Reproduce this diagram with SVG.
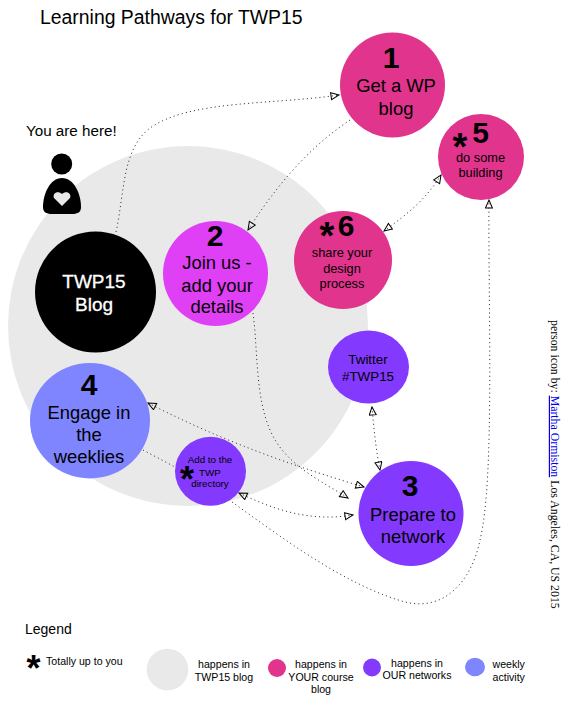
<svg xmlns="http://www.w3.org/2000/svg" width="576" height="705" viewBox="0 0 576 705">
<style>
text{font-family:"Liberation Sans",Arial,sans-serif;fill:#000;text-anchor:middle}
.l{text-anchor:start}
.num{font-weight:bold;font-size:30px}
.t18{font-size:18.4px}
.t13{font-size:12.8px}
.t134{font-size:13.4px}
.t11{font-size:10.6px}
.t10{font-size:9.8px}
.w{fill:#fff;font-size:19px;font-weight:500;stroke:#fff;stroke-width:.3}
.star{font-weight:bold;font-size:38px}
.star2{font-weight:bold;font-size:36px}
.pink{fill:#e0348d}.mag{fill:#e040f5}.pur{fill:#8439ff}.per{fill:#7e85ff}.gr{fill:#e9e9e9}
.c{fill:none;stroke:#333;stroke-width:1;stroke-dasharray:1.1 3.1}
.a{marker-end:url(#ah)}
.b{marker-start:url(#ahs);marker-end:url(#ah)}
</style>
<defs>
<marker id="ah" markerUnits="userSpaceOnUse" markerWidth="12" markerHeight="10" refX="9" refY="4" orient="auto"><path d="M1,.5 L9,4 L1,7.5 Z" fill="none" stroke="#000" stroke-width="1"/></marker>
<marker id="ahs" markerUnits="userSpaceOnUse" markerWidth="12" markerHeight="10" refX="9" refY="4" orient="auto-start-reverse"><path d="M1,.5 L9,4 L1,7.5 Z" fill="none" stroke="#000" stroke-width="1"/></marker>
</defs>
<rect width="576" height="705" fill="#fff"/>
<g id="background"><circle class="gr" cx="188" cy="326" r="180"/></g>
<text class="l" x="40" y="24" font-size="19.4">Learning Pathways for TWP15</text>
<text class="l" x="26" y="136" font-size="15.2">You are here!</text>
<g id="connectors">
<path class="c a" d="M116,232 C125,190 122,150 150,128 C190,100 270,105 339,95"/>
<path class="c a" d="M350,120 C320,140 285,172 248,230"/>
<path class="c b" d="M441,175 C425,200 410,212 384,231"/>
<path class="c a" d="M253,313 C258,350 255,395 270,430 C285,465 320,480 348,498"/>
<path class="c b" d="M148,403 C220,440 290,465 364,487"/>
<path class="c" d="M143,450 L175,467"/>
<path class="c b" d="M239,493 C275,510 310,522 353,515"/>
<path class="c a" d="M232,502 C285,540 345,585 405,602 C445,612 472,580 480,540 C495,480 488,300 489,200"/>
<path class="c b" d="M372,407 C374,430 376,450 380,470"/>
</g>
<g id="person">
<circle cx="61.7" cy="164" r="10.5" fill="#000"/>
<path d="M62,178 C74,178 81,194 81,207 C81,212 78,214 72,214 L52,214 C46,214 43,212 43,207 C43,194 50,178 62,178 Z" fill="#000"/>
<path d="M62,206 L54,198 C52,193 58,190 62,194 C66,190 72,193 70,198 Z" fill="#e9e9e9"/>
</g>
<g id="node-blog"><circle cx="95.5" cy="292" r="60.5" fill="#000"/><text class="w" x="94" y="288">TWP15</text><text class="w" x="94" y="311">Blog</text></g>
<g id="node-1"><circle class="pink" cx="392.5" cy="85" r="52.5"/><text class="num" x="391" y="68">1</text><text class="t18" x="396" y="92">Get a WP</text><text class="t18" x="396" y="115">blog</text></g>
<g id="node-2"><circle class="mag" cx="215.5" cy="273.5" r="52.5"/><text class="num" x="215" y="246">2</text><text class="t18" x="217" y="269">Join us -</text><text class="t18" x="217" y="292">add your</text><text class="t18" x="217" y="313">details</text></g>
<g id="node-3"><circle class="pur" cx="411" cy="513.5" r="52.5"/><text class="num" x="410" y="496">3</text><text class="t18" x="413" y="521">Prepare to</text><text class="t18" x="413" y="543">network</text></g>
<g id="node-4"><ellipse class="per" cx="90" cy="420.7" rx="60" ry="57.7"/><text class="num" x="89" y="395">4</text><text class="t18" x="89" y="419">Engage in</text><text class="t18" x="89" y="441">the</text><text class="t18" x="89" y="463">weeklies</text></g>
<g id="node-5"><circle class="pink" cx="481" cy="157" r="43"/><text class="num" x="480.5" y="143">5</text><text class="star" x="460" y="160">*</text><text class="t13" x="480.5" y="162">do some</text><text class="t13" x="480.5" y="177">building</text></g>
<g id="node-6"><circle class="pink" cx="343" cy="260" r="49"/><text class="num" x="346" y="236">6</text><text class="star" x="327" y="249">*</text><text class="t13" x="342" y="257">share your</text><text class="t13" x="342" y="273">design</text><text class="t13" x="342" y="288">process</text></g>
<g id="node-twitter"><ellipse class="pur" cx="368.5" cy="367" rx="40.5" ry="36.5"/><text class="t134" x="368" y="364">Twitter</text><text class="t134" x="368" y="380.5">#TWP15</text></g>
<g id="node-directory"><ellipse class="pur" cx="210.5" cy="471.3" rx="35.5" ry="34.5"/><text class="t10" x="210" y="463">Add to the</text><text class="t10" x="210" y="476">TWP</text><text class="t10" x="210" y="487">directory</text><text class="star2" x="187" y="492">*</text></g>
<text class="l" x="551" y="320" transform="rotate(90 551 320)" style="font-family:'Liberation Serif',serif;font-size:11.8px">person icon by: <tspan fill="#0000ee" text-decoration="underline">Martha Ormiston</tspan> Los Angeles, CA, US 2015</text>
<g id="legend">
<text class="l" x="25" y="634" font-size="14">Legend</text>
<text class="star2" x="33.5" y="681">*</text>
<text class="l t11" x="46" y="665">Totally up to you</text>
<circle class="gr" cx="167.5" cy="669.5" r="20.8"/>
<text class="t11" x="224" y="668">happens in</text><text class="t11" x="224" y="681">TWP15 blog</text>
<circle class="pink" cx="277" cy="668" r="9"/>
<text class="t11" x="321" y="668">happens in</text><text class="t11" x="321" y="681">YOUR course</text><text class="t11" x="321" y="693">blog</text>
<circle class="pur" cx="372" cy="667.5" r="9"/>
<text class="t11" x="417" y="667">happens in</text><text class="t11" x="417" y="679">OUR networks</text>
<ellipse class="per" cx="475" cy="667" rx="10" ry="9.2"/>
<text class="t11" x="508.7" y="668">weekly</text><text class="t11" x="508.7" y="681">activity</text>
</g>
</svg>
